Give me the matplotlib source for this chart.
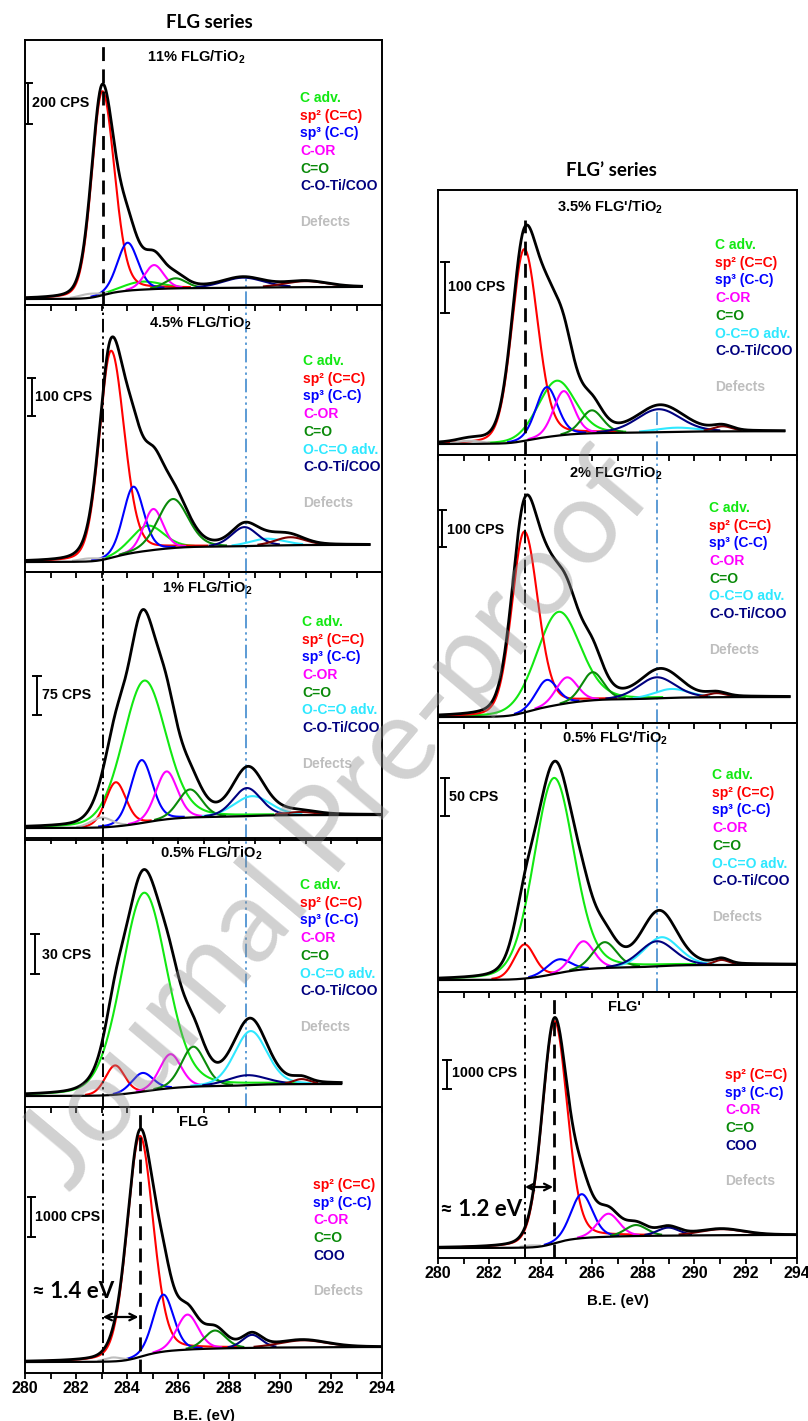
import numpy as np
import matplotlib
matplotlib.use("Agg")
import matplotlib.pyplot as plt
from matplotlib.ticker import MultipleLocator

plt.rcParams.update({
    "font.family": ["Liberation Sans", "DejaVu Sans"],
    "font.weight": "bold",
    "mathtext.fontset": "custom",
    "mathtext.rm": "Liberation Sans:bold",
    "mathtext.bf": "Liberation Sans:bold",
    "mathtext.it": "Liberation Sans:bold",
    "mathtext.default": "bf",
    "axes.linewidth": 1.4,
})
nan = np.nan

# ---------------- data ----------------
# component order
COMPONENTS = ["C adv.", "sp2 (C=C)", "sp3 (C-C)", "C-OR", "C=O", "O-C=O adv.",
              "C-O-Ti/COO", "Defects", "shake-up"]
COLORS = ["#12E812", "#FF0000", "#0000FF", "#FF00FF", "#0A8A0A", "#2FE8FF",
          "#00007F", "#BEBEBE", "#7A0000"]

# peak centre (eV), peak height above background (CPS), FWHM (eV); height 0 = absent
L1_center = [284.60, 283.03, 284.02, 285.06, 285.90, nan, 288.55, 282.50, 291.00]
L1_height = [39, 995, 234, 117, 49, 0, 49, 20, 29]
L1_fwhm = [1.8, 1.05, 0.95, 0.90, 1.0, nan, 1.9, 1.0, 2.0]
L1_bg = [0, 59]
L1_range = [280.0, 293.2]

L2_center = [284.80, 283.37, 284.25, 285.03, 285.80, 289.50, 288.60, 282.50, 290.40]
L2_height = [66, 545, 174, 108, 129, 18, 50, 8, 21]
L2_fwhm = [1.5, 1.15, 0.95, 0.90, 1.4, 1.6, 1.2, 1.0, 1.4]
L2_bg = [0, 45]
L2_range = [280.0, 293.5]

L3_center = [284.68, 283.56, 284.57, 285.55, 286.47, 288.90, 288.70, 283.00, 290.80]
L3_height = [273, 85, 121, 92, 54, 38, 54, 19, 6]
L3_fwhm = [2.0, 0.95, 1.0, 1.0, 1.1, 1.7, 1.3, 1.0, 1.5]
L3_bg = [0, 25]
L3_range = [280.0, 294.0]

L4_center = [284.67, 283.53, 284.60, 285.70, 286.60, 288.85, 288.70, nan, 290.85]
L4_height = [149, 22, 14, 25.5, 30, 40.5, 7.5, 0, 3.75]
L4_fwhm = [2.1, 0.9, 1.0, 1.0, 1.1, 1.5, 1.8, nan, 0.8]
L4_bg = [0, 9]
L4_range = [280.0, 292.4]

L5_center = [nan, 284.50, 285.42, 286.37, 287.45, nan, 288.90, 283.45, 290.90]
L5_height = [0, 5525, 1425, 875, 450, 0, 325, 100, 175]
L5_fwhm = [nan, 1.2, 0.95, 1.0, 1.0, nan, 0.9, 0.8, 2.2]
L5_bg = [0, 375]
L5_range = [280.0, 294.0]

R1_center = [284.63, 283.36, 284.24, 284.90, 286.00, 289.30, 288.60, 281.25, 291.10]
R1_height = [108, 376, 98, 86, 45, 8, 45, 6, 10]
R1_fwhm = [1.7, 1.2, 1.0, 0.95, 1.0, 2.0, 2.0, 1.2, 0.9]
R1_bg = [0, 25]
R1_range = [280.0, 293.5]

R2_center = [284.70, 283.36, 284.24, 285.02, 286.03, 289.10, 288.53, nan, 290.87]
R2_height = [251, 489, 73, 70, 76, 24, 57, 0, 11]
R2_fwhm = [2.0, 1.2, 1.0, 1.0, 1.0, 1.6, 1.7, nan, 0.9]
R2_bg = [0, 54]
R2_range = [280.0, 293.7]

R3_center = [284.52, 283.37, 284.70, 285.66, 286.50, 288.72, 288.53, nan, 291.06]
R3_height = [258, 45, 18, 37, 34, 38, 33, 0, 6.6]
R3_fwhm = [1.85, 0.95, 1.1, 1.0, 1.1, 1.6, 1.6, nan, 0.7]
R3_bg = [0, 20]
R3_range = [280.0, 294.0]

R4_center = [nan, 284.54, 285.60, 286.64, 287.72, nan, 288.98, 283.60, 291.06]
R4_height = [0, 7655, 1517, 793, 379, 0, 276, 69, 207]
R4_fwhm = [nan, 1.15, 1.0, 1.0, 1.0, nan, 1.0, 0.8, 2.0]
R4_bg = [0, 450]
R4_range = [280.0, 294.0]

# sp2 peak asymmetry (high-BE half-width / low-BE half-width), panels L1..L5, R1..R4
sp2_asym = [1.15, 1.15, 1.0, 1.0, 1.05, 1.1, 1.1, 1.0, 1.05]

titles = ["11% FLG/TiO$_2$", "4.5% FLG/TiO$_2$", "1% FLG/TiO$_2$", "0.5% FLG/TiO$_2$", "FLG",
          "3.5% FLG'/TiO$_2$", "2% FLG'/TiO$_2$", "0.5% FLG'/TiO$_2$", "FLG'"]
scale_values = [200, 100, 75, 30, 1000, 100, 100, 50, 1000]   # CPS scale bars
scale_bottoms = [854, 384, 217, 91.5, 3125, 257, 460, 216, 5482]
scale_x = [280.12, 280.27, 280.47, 280.39, 280.24, 280.27, 280.16, 280.27, 280.35]
shift_labels = ["≈ 1.4 eV", "≈ 1.2 eV"]
shift_from = [283.05, 283.39]
shift_to = [284.50, 284.54]
sp2_ref_left, sp2_ref_right = 283.05, 283.39
coo_ref_left, coo_ref_right = 288.65, 288.53
xticks = [280, 282, 284, 286, 288, 290, 292, 294]

# ---------------- layout ----------------
W, H = 808, 1421
fig = plt.figure(figsize=(W / 100, H / 100), dpi=100)

def fx(x):
    return x / W

def fy(y):
    return 1 - y / H

def add_ax(xl, top, xr, bot):
    ax = fig.add_axes([fx(xl), fy(bot), (xr - xl) / W, (bot - top) / H])
    ax.set_facecolor("none")
    return ax

def pv(E, c, h, w, a=1.0, m=0.2):
    half = np.where(E < c, w / (1 + a), a * w / (1 + a))
    s = half / np.sqrt(2 * np.log(2))
    g = np.exp(-(E - c) ** 2 / (2 * s * s))
    l = 1 / (1 + ((E - c) / half) ** 2)
    return h * ((1 - m) * g + m * l)

def draw_spectrum(ax, centers, heights, fwhms, bg, erange, ylim, asym):
    E = np.linspace(erange[0], erange[1], 1200)
    comps = []
    for j, (c, h, w) in enumerate(zip(centers, heights, fwhms)):
        a = asym if j == 1 else 1.0
        comps.append(pv(E, c, h, w, a) if h > 0 else np.zeros_like(E))
    total = np.sum(comps, axis=0)
    frac = np.cumsum(total) / np.sum(total)
    back = bg[0] + (bg[1] - bg[0]) * frac
    thr = 0.004 * (ylim[1] - ylim[0])
    for comp, col in zip(comps, COLORS):
        if comp.max() <= 0:
            continue
        y = np.where(comp > thr, back + comp, np.nan)
        ax.plot(E, y, color=col, lw=1.5, zorder=3)
    ax.plot(E, back, color="black", lw=1.6, zorder=4)
    ax.plot(E, back + total, color="black", lw=2.0, zorder=5)
    return E, back + total

DDOT = (0, (7, 2, 1.2, 2, 1.2, 2))
BLUE_LINE = "#5B9BD5"

left_tb = [(40, 305), (305, 572), (572, 838), (840, 1107), (1107, 1373)]
right_tb = [(190, 455), (455, 723), (723, 992), (992, 1258)]
ylims = [(-29.3, 1263.4), (-26.3, 676.4), (-19.2, 492.3), (-8.25, 192.0), (-275, 6375),
         (-21.6, 498.1), (-16.2, 708.2), (-15.8, 338.2), (-344.8, 8827)]
data = [
    (L1_center, L1_height, L1_fwhm, L1_bg, L1_range),
    (L2_center, L2_height, L2_fwhm, L2_bg, L2_range),
    (L3_center, L3_height, L3_fwhm, L3_bg, L3_range),
    (L4_center, L4_height, L4_fwhm, L4_bg, L4_range),
    (L5_center, L5_height, L5_fwhm, L5_bg, L5_range),
    (R1_center, R1_height, R1_fwhm, R1_bg, R1_range),
    (R2_center, R2_height, R2_fwhm, R2_bg, R2_range),
    (R3_center, R3_height, R3_fwhm, R3_bg, R3_range),
    (R4_center, R4_height, R4_fwhm, R4_bg, R4_range),
]
rects = [(25, t, 382, b) for t, b in left_tb] + [(438, t, 797, b) for t, b in right_tb]
title_pos = [(196, 57), (200, 323), (207, 588), (211, 853), (194, 1122),
             (610, 207), (616, 473), (615, 738), (624, 1007)]
cps_pos = [(32, 103), (35, 397), (42, 695), (42, 955), (35, 1217),
           (448, 287), (447, 530), (449, 797), (452, 1073)]
legend_x = [300, 303, 302, 300, 313, 715, 709, 712, 725]
legend_y0 = [58, 56, 50, 45, 78, 55, 53, 52, 83]
LEG_STEP = 17.7

leg_full = [("C adv.", 0), ("sp\u00b2 (C=C)", 1), ("sp\u00b3 (C-C)", 2), ("C-OR", 3),
            ("C=O", 4), ("O-C=O adv.", 5), ("C-O-Ti/COO", 6), (None, None), ("Defects", 7)]
leg_11 = [("C adv.", 0), ("sp\u00b2 (C=C)", 1), ("sp\u00b3 (C-C)", 2), ("C-OR", 3),
          ("C=O", 4), ("C-O-Ti/COO", 6), (None, None), ("Defects", 7)]
leg_flg = [("sp\u00b2 (C=C)", 1), ("sp\u00b3 (C-C)", 2), ("C-OR", 3), ("C=O", 4),
           ("COO", 6), (None, None), ("Defects", 7)]
legends = [leg_11, leg_full, leg_full, leg_full, leg_flg, leg_full, leg_full, leg_full, leg_flg]

axes = []
for i in range(9):
    ax = add_ax(*rects[i])
    axes.append(ax)
    cen, hei, fw, bg, er = data[i]
    E, env = draw_spectrum(ax, cen, hei, fw, bg, er, ylims[i], sp2_asym[i])
    ax.set_xlim(280, 294)
    ax.set_ylim(*ylims[i])
    ax.set_yticks([])
    ax.xaxis.set_major_locator(MultipleLocator(2))
    ax.xaxis.set_minor_locator(MultipleLocator(1))
    ax.tick_params(axis="x", which="both", direction="out", length=4, width=1.3,
                   labelsize=11.5, pad=2)
    if i not in (4, 8):
        ax.tick_params(axis="x", which="both", labelbottom=False)
    else:
        ax.set_xticks(xticks)
        ax.set_xticklabels([str(t) for t in xticks], fontweight="bold")
        ax.set_xlabel("B.E. (eV)", fontsize=10.8, fontweight="bold", labelpad=9)
    # scale bar
    xb, yb, v = scale_x[i], scale_bottoms[i], scale_values[i]
    ax.plot([xb, xb], [yb, yb + v], color="black", lw=1.4, zorder=6)
    for yy in (yb, yb + v):
        ax.plot([xb - 0.14, xb + 0.14], [yy, yy], color="black", lw=1.4, zorder=6)
    # texts
    tx, ty = title_pos[i]
    fig.text(fx(tx), fy(ty), titles[i], ha="center", va="center", fontsize=10.5,
             fontweight="bold")
    cx, cy = cps_pos[i]
    fig.text(fx(cx), fy(cy), f"{scale_values[i]} CPS", ha="left", va="center",
             fontsize=10.3, fontweight="bold")
    top = rects[i][1]
    k = 0
    for lab, ci in legends[i]:
        if lab is not None:
            fig.text(fx(legend_x[i]), fy(top + legend_y0[i] + k * LEG_STEP), lab,
                     ha="left", va="center", fontsize=10, fontweight="bold",
                     color=COLORS[ci])
        k += 1

# reference lines, left column
axes[0].axvline(sp2_ref_left, color="black", lw=2.0, ls=(0, (5, 3)), zorder=7)
axes[0].plot([coo_ref_left] * 2, [ylims[0][0], 107], color=BLUE_LINE, lw=1.4, ls=DDOT, zorder=2)
for i in (1, 2, 3, 4):
    axes[i].axvline(sp2_ref_left, color="black", lw=1.4, ls=DDOT, zorder=7)
for i in (1, 2, 3):
    axes[i].axvline(coo_ref_left, color=BLUE_LINE, lw=1.4, ls=DDOT, zorder=2)
axes[4].axvline(shift_to[0], color="black", lw=2.0, ls=(0, (5, 3)), zorder=7)
axes[4].annotate("", xy=(shift_to[0] - 0.05, 1125), xytext=(shift_from[0], 1125),
                 arrowprops=dict(arrowstyle="<->", lw=1.6, color="black",
                                 shrinkA=0, shrinkB=0, mutation_scale=12), zorder=8)
fig.text(fx(32), fy(1292), shift_labels[0], ha="left", va="center", fontsize=16,
         fontweight="bold", family=["Lato", "DejaVu Sans"])

# reference lines, right column
axes[5].axvline(sp2_ref_right, ymax=0.887, color="black", lw=2.0, ls=(0, (5, 3)), zorder=7)
axes[5].plot([coo_ref_right] * 2, [ylims[5][0], 63], color=BLUE_LINE, lw=1.4, ls=DDOT, zorder=2)
for i in (6, 7, 8):
    axes[i].axvline(sp2_ref_right, color="black", lw=1.4, ls=DDOT, zorder=7)
for i in (6, 7):
    axes[i].axvline(coo_ref_right, color=BLUE_LINE, lw=1.4, ls=DDOT, zorder=2)
axes[8].axvline(shift_to[1], color="black", lw=2.0, ls=(0, (5, 3)), zorder=7)
axes[8].annotate("", xy=(shift_to[1] - 0.05, 2103), xytext=(shift_from[1], 2103),
                 arrowprops=dict(arrowstyle="<->", lw=1.6, color="black",
                                 shrinkA=0, shrinkB=0, mutation_scale=12), zorder=8)
fig.text(fx(440), fy(1210), shift_labels[1], ha="left", va="center", fontsize=16,
         fontweight="bold", family=["Lato", "DejaVu Sans"])

# section titles
fig.text(fx(209), fy(23), "FLG series", ha="center", va="center", fontsize=13.5,
         fontweight="bold", family=["Lato", "DejaVu Sans"])
fig.text(fx(611), fy(170), "FLG\u2019 series", ha="center", va="center", fontsize=13.5,
         fontweight="bold", family=["Lato", "DejaVu Sans"])

# watermark
fig.text(fx(338), fy(822), "Journal Pre-proof", rotation=50, rotation_mode="anchor",
         ha="center", va="center", fontsize=85, color="#8C8C8C", alpha=0.4,
         family=["Lato", "DejaVu Sans"], fontweight="normal", zorder=20)

fig.savefig("out.png", dpi=100, facecolor="white")
